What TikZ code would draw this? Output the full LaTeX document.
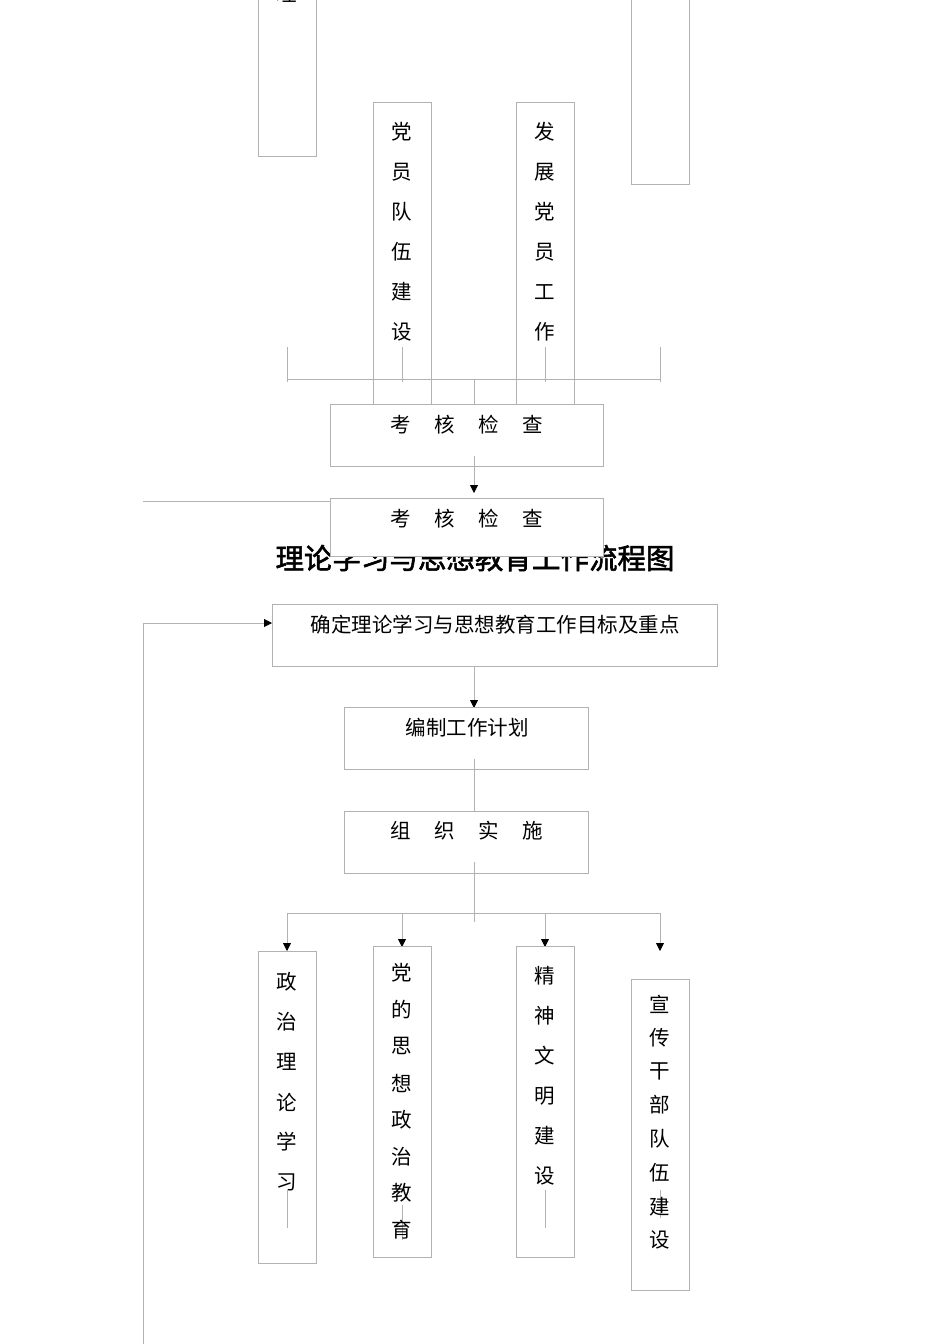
\documentclass[tikz,border=0pt]{standalone}
\usepackage{fontspec}
\usetikzlibrary{arrows.meta}
\newfontfamily\cjk{Noto Sans CJK SC}
\newfontfamily\cjkb{Noto Sans CJK SC}[FakeBold=2]
\begin{document}
\begin{tikzpicture}[x=1pt,y=-1pt,
  ln/.style={draw=black!30,line width=0.8pt},
  bx/.style={draw=black!30,line width=0.8pt,fill=white},
  ar/.style={ln,-{Triangle[length=8pt,width=8pt,fill=black,color=black]}},
  tx/.style={font=\cjk\fontsize{20.5}{20.5}\selectfont,inner sep=0pt}]
\useasboundingbox (0,0) rectangle (950,1344);
\clip (0,0) rectangle (950,1344);
% top partial boxes
\draw[bx] (258,-5) rectangle (316,156);
\node[tx] (c0) at (287,-6) {理};
\draw[bx] (631,-5) rectangle (689,184);
% top column boxes
\draw[bx] (373,102) rectangle (431,404);
\draw[bx] (516,102) rectangle (574,404);
\foreach \c [count=\i from 0] in {党,员,队,伍,建,设}
  \node[tx] at (402,132+40*\i) {\c};
\foreach \c [count=\i from 0] in {发,展,党,员,工,作}
  \node[tx] at (545,132+40*\i) {\c};
\draw[ln] (287,379) -- (660,379);
\draw[ln] (287,347) -- (287,382);
\draw[ln] (660,347) -- (660,382);
\draw[ln] (402,347) -- (402,382);
\draw[ln] (545,347) -- (545,382);
\draw[ln] (474,379) -- (474,404);
\node[bx,minimum width=273pt,minimum height=62pt,anchor=north west] (k1) at (330,404) {};
\node[tx] at (467,425) {考\hspace{1.15em}核\hspace{1.15em}检\hspace{1.15em}查};
\draw[ar] (474,456) -- (474,493);
\draw[ln] (143,501) -- (330,501);
% title
\node[inner sep=0pt,font=\cjkb\fontsize{28.5}{28.5}\selectfont] (title) at (475,558) {理论学习与思想教育工作流程图};
\node[bx,minimum width=273pt,minimum height=58pt,anchor=north west] (k2) at (330,498) {};
\node[tx] at (467,519) {考\hspace{1.15em}核\hspace{1.15em}检\hspace{1.15em}查};
% main flow
\node[bx,minimum width=445pt,minimum height=62pt,anchor=north west] (b1) at (272,604) {};
\node[tx] at (495,625) {确定理论学习与思想教育工作目标及重点};
\coordinate (fb) at (143,1344);
\draw[ar] (fb) -- (143,623) -- (b1.west |- 0,623);
\draw[ar] (474,666) -- (474,708);
\node[bx,minimum width=244pt,minimum height=62pt,anchor=north west] (b2) at (344,707) {};
\node[tx] at (467,728) {编制工作计划};
\draw[ln] (474,759) -- (474,811);
\node[bx,minimum width=244pt,minimum height=62pt,anchor=north west] (b3) at (344,811) {};
\node[tx] at (467,831) {组\hspace{1.15em}织\hspace{1.15em}实\hspace{1.15em}施};
\draw[ln] (474,862) -- (474,922);
\draw[ln] (287,913) -- (660,913);
\draw[ar] (287,913) -- (287,951);
\draw[ar] (402,913) -- (402,947);
\draw[ar] (545,913) -- (545,947);
\draw[ar] (660,913) -- (660,951);
% bottom boxes
\draw[bx] (258,951) rectangle (316,1263);
\draw[bx] (373,946) rectangle (431,1257);
\draw[bx] (516,946) rectangle (574,1257);
\draw[bx] (631,979) rectangle (689,1290);
\draw[ln] (287,1190) -- (287,1228);
\draw[ln] (402,1205) -- (402,1240);
\draw[ln] (545,1190) -- (545,1228);
\draw[ln] (660,1190) -- (660,1218);
\foreach \c [count=\i from 0] in {政,治,理,论,学,习}
  \node[tx] at (287,982+40*\i) {\c};
\foreach \c [count=\i from 0] in {党,的,思,想,政,治,教,育}
  \node[tx] at (402,973+36.7*\i) {\c};
\foreach \c [count=\i from 0] in {精,神,文,明,建,设}
  \node[tx] at (545,976+40*\i) {\c};
\foreach \c [count=\i from 0] in {宣,传,干,部,队,伍,建,设}
  \node[tx] at (660,1004+33.7*\i) {\c};
\end{tikzpicture}
\end{document}
